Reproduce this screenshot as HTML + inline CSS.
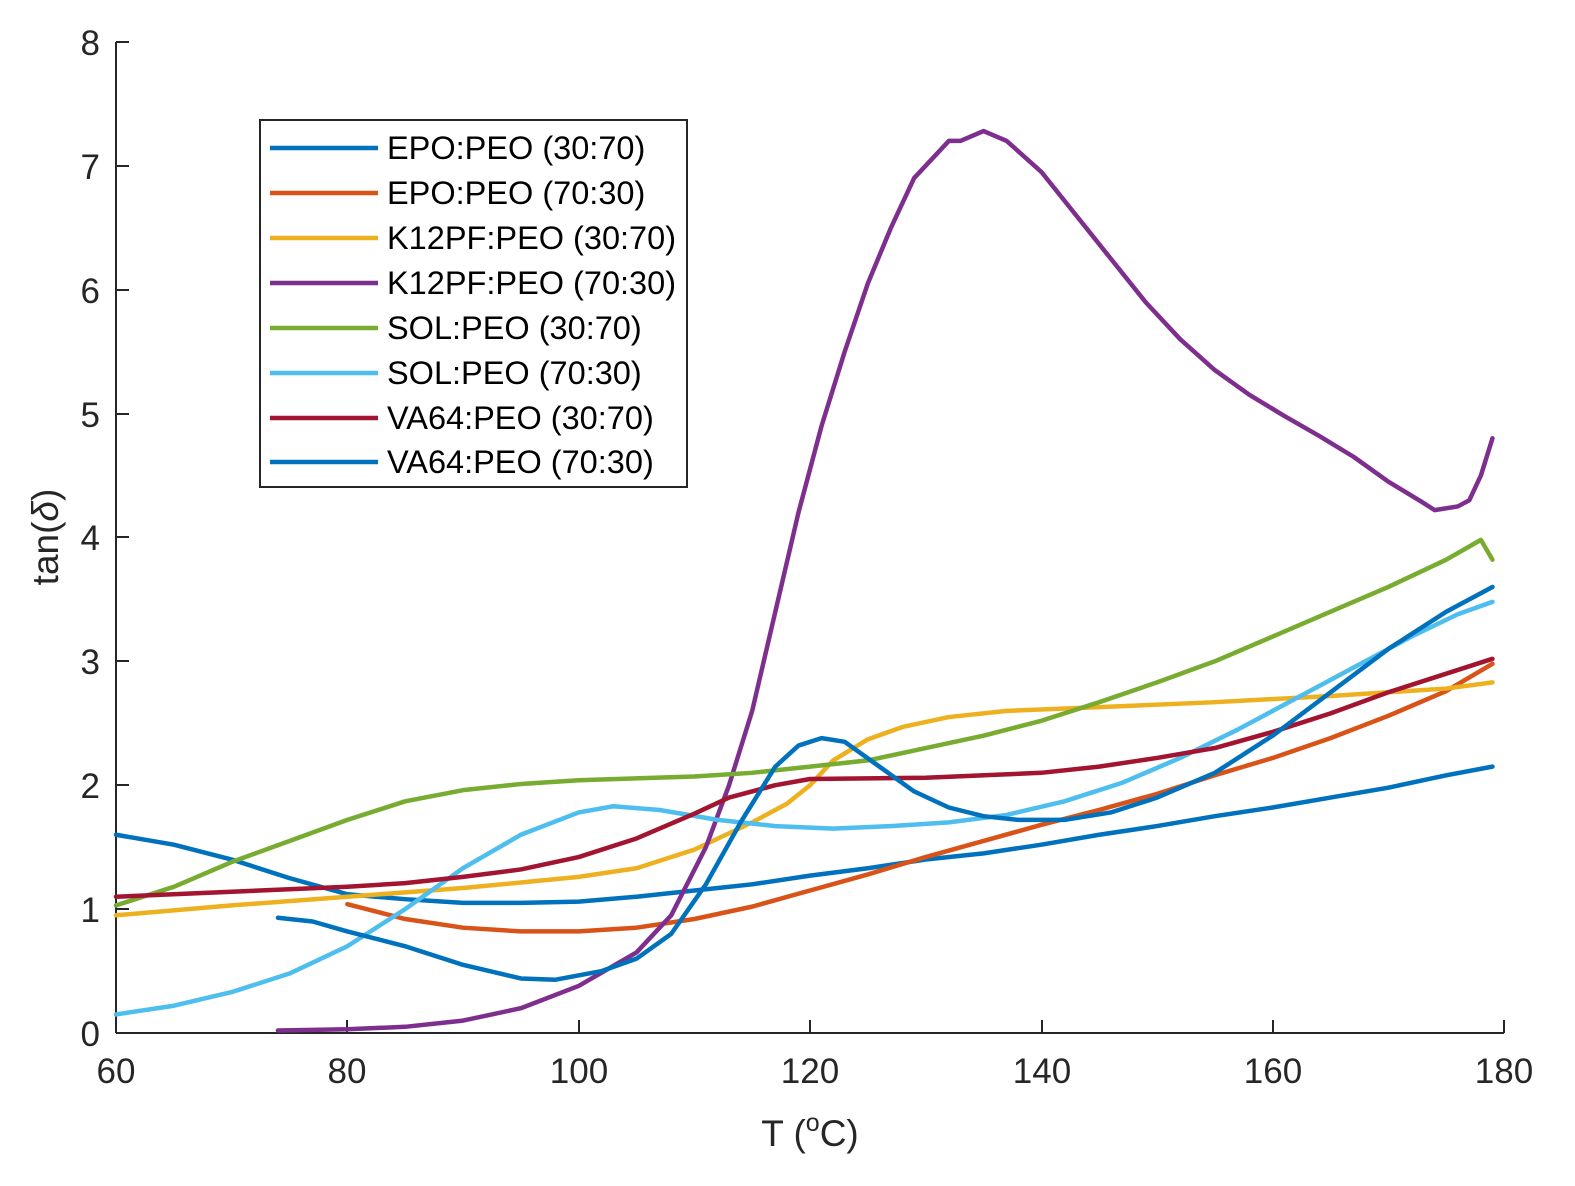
<!DOCTYPE html>
<html><head><meta charset="utf-8"><style>
html,body{margin:0;padding:0;background:#fff;}
svg{display:block;font-family:"Liberation Sans",sans-serif;}
</style></head><body>
<svg width="1575" height="1186" viewBox="0 0 1575 1186" xmlns="http://www.w3.org/2000/svg">
<rect width="1575" height="1186" fill="#fff"/>
<g stroke="#262626" stroke-width="2" fill="none">
<line x1="116" y1="42" x2="116" y2="1033"/>
<line x1="116" y1="1033" x2="1504" y2="1033"/>
<path d="M116 1033h13M116 909h13M116 785h13M116 661h13M116 537h13M116 414h13M116 290h13M116 166h13M116 42h13"/>
<path d="M116 1033v-13M347 1033v-13M579 1033v-13M810 1033v-13M1042 1033v-13M1273 1033v-13M1504 1033v-13"/>
</g>
<g font-size="35" fill="#262626" text-anchor="end">
<text x="100" y="1046">0</text><text x="100" y="922">1</text><text x="100" y="798">2</text>
<text x="100" y="674">3</text><text x="100" y="550">4</text><text x="100" y="427">5</text>
<text x="100" y="303">6</text><text x="100" y="179">7</text><text x="100" y="55">8</text>
</g>
<g font-size="35" fill="#262626" text-anchor="middle">
<text x="116" y="1083">60</text><text x="347" y="1083">80</text><text x="579" y="1083">100</text>
<text x="810" y="1083">120</text><text x="1042" y="1083">140</text><text x="1273" y="1083">160</text>
<text x="1504" y="1083">180</text>
<text x="810" y="1146" font-size="37">T (<tspan font-size="25" dy="-15">o</tspan><tspan dy="15">C)</tspan></text>
<text transform="translate(58,537) rotate(-90)" font-size="37">tan(<tspan font-style="italic">δ</tspan>)</text>
</g>
<g transform="translate(116,1033) scale(11.567,-123.9) translate(-60,0)" fill="none" stroke-width="4.5" stroke-linejoin="round" stroke-linecap="round">
<polyline vector-effect="non-scaling-stroke" stroke="#0072BD" points="60,1.6 65,1.52 70,1.4 75,1.25 80,1.12 85,1.08 90,1.05 95,1.05 100,1.06 105,1.1 110,1.15 115,1.2 120,1.27 125,1.33 130,1.4 135,1.45 140,1.52 145,1.6 150,1.67 155,1.75 160,1.82 165,1.9 170,1.98 175,2.08 179,2.15"/>
<polyline vector-effect="non-scaling-stroke" stroke="#D95319" points="80,1.04 85,0.92 90,0.85 95,0.82 100,0.82 105,0.85 110,0.92 115,1.02 120,1.15 125,1.28 130,1.42 135,1.55 140,1.68 145,1.8 150,1.93 155,2.08 160,2.22 165,2.38 170,2.56 175,2.76 179,2.98"/>
<polyline vector-effect="non-scaling-stroke" stroke="#EDB120" points="60,0.95 70,1.03 80,1.1 90,1.17 100,1.26 105,1.33 110,1.48 115,1.7 118,1.85 120,2.0 122,2.2 125,2.37 128,2.47 132,2.55 137,2.6 145,2.63 155,2.67 165,2.72 175,2.78 179,2.83"/>
<polyline vector-effect="non-scaling-stroke" stroke="#7E2F8E" points="74,0.02 80,0.03 85,0.05 90,0.1 95,0.2 100,0.38 105,0.65 108,0.95 111,1.5 113,2.0 115,2.6 117,3.4 119,4.2 121,4.9 123,5.5 125,6.05 127,6.5 129,6.9 131,7.1 132,7.2 133,7.2 135,7.28 137,7.2 140,6.95 143,6.6 146,6.25 149,5.9 152,5.6 155,5.35 158,5.15 161,4.98 164,4.82 167,4.65 170,4.45 173,4.28 174,4.22 176,4.25 177,4.3 178,4.5 179,4.8"/>
<polyline vector-effect="non-scaling-stroke" stroke="#77AC30" points="60,1.03 65,1.18 70,1.38 75,1.55 80,1.72 85,1.87 90,1.96 95,2.01 100,2.04 110,2.07 115,2.1 120,2.15 125,2.2 130,2.3 135,2.4 140,2.52 145,2.67 150,2.83 155,3.0 160,3.2 165,3.4 170,3.6 175,3.82 178,3.98 179,3.82"/>
<polyline vector-effect="non-scaling-stroke" stroke="#4DBEEE" points="60,0.15 65,0.22 70,0.33 75,0.48 80,0.7 85,1.0 90,1.33 95,1.6 100,1.78 103,1.83 107,1.8 112,1.72 117,1.67 122,1.65 127,1.67 132,1.7 137,1.76 142,1.87 147,2.02 152,2.22 157,2.45 162,2.7 167,2.95 172,3.2 176,3.38 179,3.48"/>
<polyline vector-effect="non-scaling-stroke" stroke="#A2142F" points="60,1.1 70,1.14 80,1.18 85,1.21 90,1.26 95,1.32 100,1.42 105,1.57 110,1.77 113,1.9 117,2.0 120,2.05 130,2.06 140,2.1 145,2.15 150,2.22 155,2.3 160,2.43 165,2.58 170,2.75 175,2.9 179,3.02"/>
<polyline vector-effect="non-scaling-stroke" stroke="#0072BD" points="74,0.93 77,0.9 80,0.82 85,0.7 90,0.55 95,0.44 98,0.43 102,0.5 105,0.6 108,0.8 111,1.2 114,1.7 117,2.15 119,2.32 121,2.38 123,2.35 126,2.15 129,1.95 132,1.82 135,1.75 138,1.72 142,1.72 146,1.78 150,1.9 155,2.1 160,2.4 165,2.75 170,3.1 175,3.4 179,3.6"/>
</g>
<rect x="260" y="120" width="427" height="367" fill="#fff" stroke="#262626" stroke-width="2"/>
<g stroke-width="4.5">
<line x1="270" y1="148" x2="378" y2="148" stroke="#0072BD"/>
<line x1="270" y1="193" x2="378" y2="193" stroke="#D95319"/>
<line x1="270" y1="238" x2="378" y2="238" stroke="#EDB120"/>
<line x1="270" y1="283" x2="378" y2="283" stroke="#7E2F8E"/>
<line x1="270" y1="328" x2="378" y2="328" stroke="#77AC30"/>
<line x1="270" y1="373" x2="378" y2="373" stroke="#4DBEEE"/>
<line x1="270" y1="418" x2="378" y2="418" stroke="#A2142F"/>
<line x1="270" y1="462" x2="378" y2="462" stroke="#0072BD"/>
</g>
<g font-size="32.5" fill="#000">
<text x="387" y="159">EPO:PEO (30:70)</text>
<text x="387" y="204">EPO:PEO (70:30)</text>
<text x="387" y="249">K12PF:PEO (30:70)</text>
<text x="387" y="294">K12PF:PEO (70:30)</text>
<text x="387" y="339">SOL:PEO (30:70)</text>
<text x="387" y="384">SOL:PEO (70:30)</text>
<text x="387" y="429">VA64:PEO (30:70)</text>
<text x="387" y="473">VA64:PEO (70:30)</text>
</g>
</svg>
</body></html>
